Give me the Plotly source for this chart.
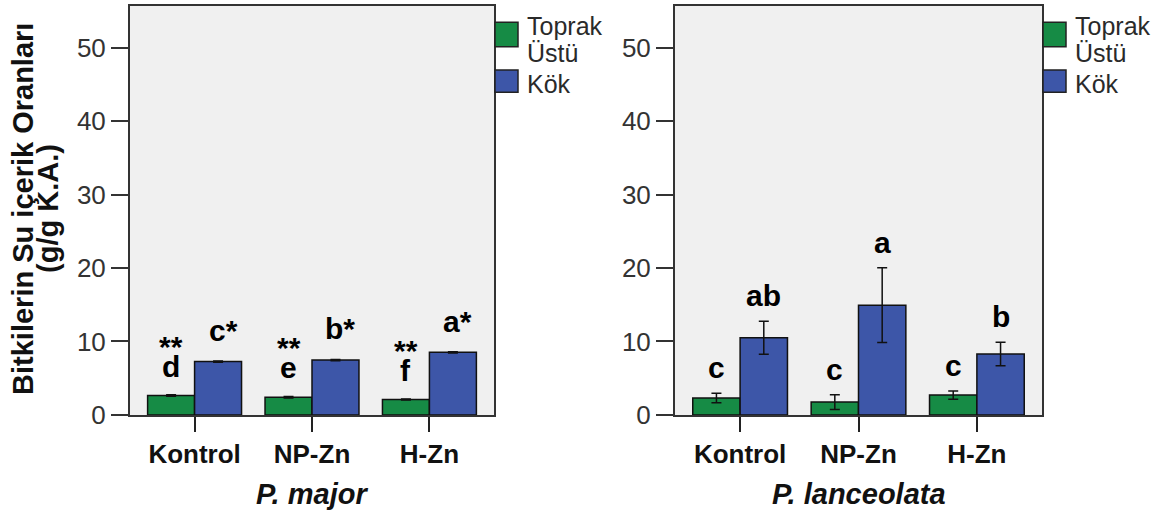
import plotly.graph_objects as go

W, H = 1161, 531

categories = ["Kontrol", "NP-Zn", "H-Zn"]
series_names = ["Toprak Üstü", "Kök"]
y_ticks = [0, 10, 20, 30, 40, 50]

# P. major: water content (g/g dry weight) with standard errors
major_shoot = [2.65, 2.42, 2.10]
major_shoot_err = [0.10, 0.10, 0.08]
major_root = [7.26, 7.47, 8.52]
major_root_err = [0.10, 0.08, 0.08]
major_shoot_letters = ["d", "e", "f"]
major_shoot_marks = ["**", "**", "**"]
major_root_letters = ["c*", "b*", "a*"]

# P. lanceolata
lanc_shoot = [2.30, 1.75, 2.70]
lanc_shoot_err = [0.65, 1.00, 0.55]
lanc_root = [10.50, 14.95, 8.30]
lanc_root_err = [2.25, 5.10, 1.60]
lanc_shoot_letters = ["c", "c", "c"]
lanc_root_letters = ["ab", "a", "b"]

FONT = "Liberation Sans, Arial, sans-serif"
GREEN = "#168b45"
BLUE = "#3d56a8"
COLORS = [GREEN, BLUE]


def px_x(x):
    return x / W


def px_y(y):
    return 1 - y / H


PLOT_TOP, PLOT_BOTTOM = 6, 427

panels = [
    dict(ax="", left=130, right=494, title="P. major",
         series=[(major_shoot, major_shoot_err, major_shoot_letters, major_shoot_marks, 10),
                 (major_root, major_root_err, major_root_letters, None, 12)]),
    dict(ax="2", left=675, right=1042, title="P. lanceolata",
         series=[(lanc_shoot, lanc_shoot_err, lanc_shoot_letters, None, 7),
                 (lanc_root, lanc_root_err, lanc_root_letters, None, 7)]),
]

fig = go.Figure()
annotations = []
shapes = []
layout_axes = {}

BARGAP = 0.2
half_bar = (1 - BARGAP) / 4

for p in panels:
    xref, yref = "x" + p["ax"], "y" + p["ax"]
    for k, (vals, errs, letters, marks, yshift) in enumerate(p["series"]):
        fig.add_trace(go.Bar(
            x=categories, y=vals, name=series_names[k],
            marker=dict(color=COLORS[k], line=dict(color="#111111", width=1.5)),
            error_y=dict(type="data", array=errs, color="#111111", thickness=1.5, width=5),
            xaxis=xref, yaxis=yref, showlegend=False,
        ))
        off = -half_bar if k == 0 else half_bar
        for i, (v, e) in enumerate(zip(vals, errs)):
            t = letters[i]
            annotations.append(dict(
                x=i + off, y=v + e, xref=xref, yref=yref, text=f"<b>{t}</b>",
                showarrow=False, yanchor="bottom", yshift=yshift,
                xshift=5 if t.endswith("*") else 0,
                font=dict(family=FONT, size=30, color="black"),
            ))
            if marks:
                annotations.append(dict(
                    x=i + off, y=v + e, xref=xref, yref=yref, text=f"<b>{marks[i]}</b>",
                    showarrow=False, yanchor="bottom", yshift=yshift + 20,
                    font=dict(family=FONT, size=30, color="black"),
                ))

    dom_x = [px_x(p["left"]), px_x(p["right"])]
    dom_y = [px_y(PLOT_BOTTOM), px_y(PLOT_TOP)]
    xname = "xaxis" + p["ax"]
    yname = "yaxis" + p["ax"]
    layout_axes[xname] = dict(
        domain=dom_x, anchor=yref, type="category", categoryorder="array",
        categoryarray=categories, range=[-0.55, 2.55],
        showline=True, mirror=True, linecolor="#333333", linewidth=2,
        ticks="outside", ticklen=15, tickwidth=2, tickcolor="#222222",
        tickfont=dict(family=FONT, size=26, color="#111111", weight="bold"),
        showgrid=False, zeroline=False,
    )
    layout_axes[yname] = dict(
        domain=dom_y, anchor=xref, range=[0, 55.7], tickvals=y_ticks,
        showline=True, mirror=True, linecolor="#333333", linewidth=2,
        ticks="outside", ticklen=17, tickwidth=2, tickcolor="#333333",
        tickfont=dict(family=FONT, size=26, color="#333333"),
        showgrid=False, zeroline=False,
    )

    # x-axis title (species)
    annotations.append(dict(
        x=(dom_x[0] + dom_x[1]) / 2, y=px_y(508), xref="paper", yref="paper",
        text=f"<b><i>{p['title']}</i></b>", showarrow=False,
        xanchor="center", yanchor="middle",
        font=dict(family=FONT, size=29, color="#111111"),
    ))

    # legend block to the right of each panel
    bx0 = p["right"] + 1
    boxes = [(23, 48), (72, 95)]
    line_baselines = [[35, 63], [95]]
    for k, name in enumerate(series_names):
        y0, y1 = boxes[k]
        shapes.append(dict(
            type="rect", xref="paper", yref="paper",
            x0=px_x(bx0), x1=px_x(bx0 + 23), y0=px_y(y1), y1=px_y(y0),
            fillcolor=COLORS[k], line=dict(color="#222222", width=1.5),
        ))
        for word, base in zip(name.split(" "), line_baselines[k]):
            annotations.append(dict(
                x=px_x(bx0 + 30), y=px_y(base - 0.3465 * 25), xref="paper", yref="paper",
                text=word, showarrow=False, xanchor="left", yanchor="middle",
                font=dict(family=FONT, size=25, color="#2a2a2a"),
            ))

# shared y-axis title, two lines
y_title_lines = ["Bitkilerin Su içerik Oranları", "(g/g K.A.)"]
for line, cx in zip(y_title_lines, [23, 48]):
    annotations.append(dict(
        x=px_x(cx), y=px_y(215), xref="paper", yref="paper", text=f"<b>{line}</b>",
        textangle=-90, showarrow=False, xanchor="center", yanchor="middle",
        font=dict(family=FONT, size=29, color="#111111"),
    ))

fig.update_layout(
    width=W, height=H, margin=dict(l=0, r=0, t=0, b=0),
    paper_bgcolor="white", plot_bgcolor="#f0f0f0",
    barmode="group", bargap=BARGAP, bargroupgap=0,
    showlegend=False, annotations=annotations, shapes=shapes,
    **layout_axes,
)

fig.write_html("out.html")
